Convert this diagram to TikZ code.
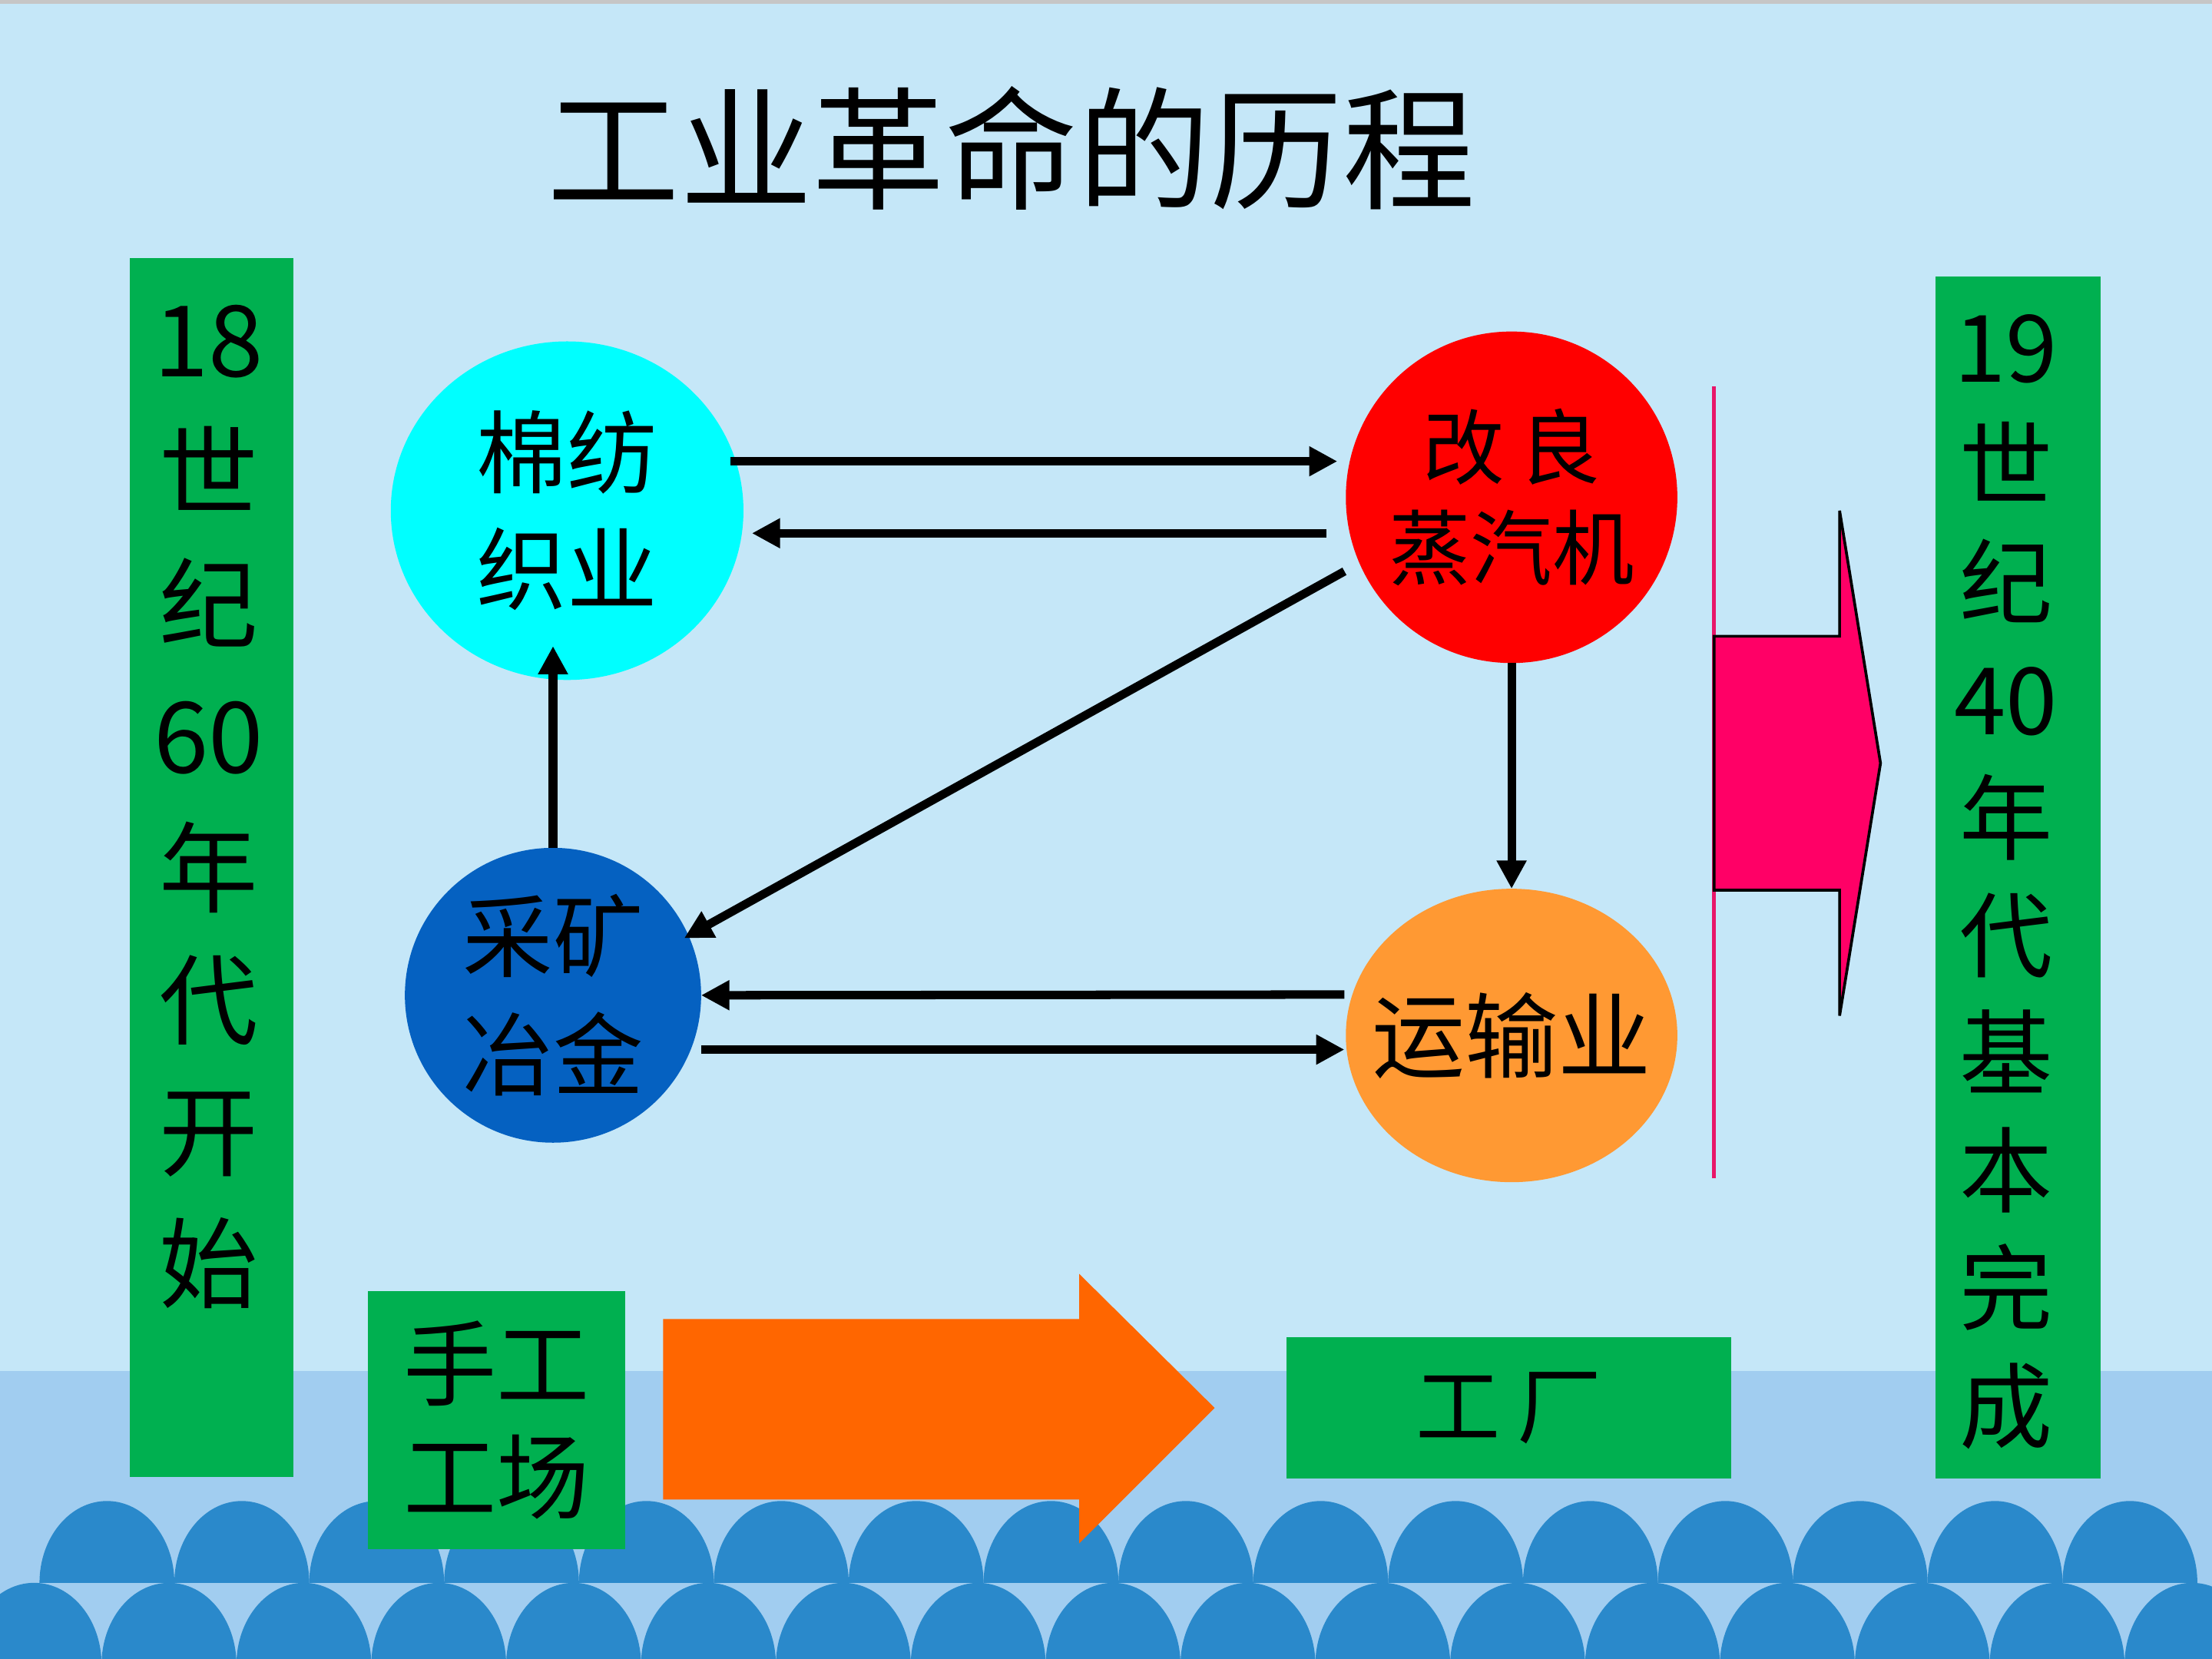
\documentclass[tikz,border=0pt]{standalone}
\usepackage{fontspec}
\newfontfamily\cjk{Noto Sans CJK SC}
\usetikzlibrary{shapes.geometric,arrows.meta}
\definecolor{skyblue}{RGB}{197,231,248}
\definecolor{bandblue}{RGB}{161,205,240}
\definecolor{waveblue}{RGB}{42,137,203}
\definecolor{barGreen}{RGB}{0,176,80}
\definecolor{cottonCyan}{RGB}{0,255,255}
\definecolor{steamRed}{RGB}{255,0,0}
\definecolor{mineBlue}{RGB}{5,97,193}
\definecolor{transOrange}{RGB}{255,153,51}
\definecolor{bigOrange}{RGB}{255,102,0}
\definecolor{hotPink}{RGB}{255,0,102}
\definecolor{lineRed}{RGB}{232,22,105}
\begin{document}
\begin{tikzpicture}[x=0.5pt,y=0.5pt,yscale=-1,xscale=1,
    blob/.style={ellipse, inner sep=-10pt, outer sep=0pt, align=center},
    bar/.style={fill=barGreen, inner sep=0pt, outer sep=0pt, align=center},
    wave/.style={fill=waveblue},
    link/.style={line width=3pt, -{Triangle[length=10pt,width=10pt]}}]
        \useasboundingbox (0,0) rectangle (1568,1176);
        \clip (0,0) rectangle (1568,1176);
        %Background
        \fill[skyblue] (0,0) rectangle (1568,1176);
        \fill[bandblue] (0,972) rectangle (1568,1176);
        \fill[gray!45] (0,0) rectangle (1568,3);
        %Waves
        \foreach \k in {0,...,15}
            \fill[wave] ({28+95.6*\k},1122) arc[start angle=180,end angle=360,x radius=47.8,y radius=58];
        \foreach \k in {0,...,16}
            \fill[wave] ({-23.6+95.6*\k},1180) arc[start angle=180,end angle=360,x radius=47.8,y radius=58];

        % Title
        \node (title) at (717,105) {\cjk\fontsize{47}{50}\selectfont 工业革命的历程};

        %Side bars
        \node[bar, minimum width=58pt, minimum height=432pt] (start) at (150,615) {};
        \node[font=\cjk\fontsize{35}{46.8}\selectfont, align=center] (starttext) at (148,572) {18\\世\\纪\\60\\年\\代\\开\\始};
        \node[bar, minimum width=58.5pt, minimum height=426pt] (finish) at (1430.5,622) {};
        \node[font=\cjk\fontsize{33}{41.7}\selectfont, align=center] (finishtext) at (1422,625) {19\\世\\纪\\40\\年\\代\\基\\本\\完\\成};

        %Circles
        \node[blob, fill=cottonCyan, minimum width=125pt, minimum height=120pt, font=\cjk\fontsize{32}{41.5}\selectfont] (mian) at (402,362) {棉纺\\织业};
        \node[blob, fill=steamRed, minimum width=117.5pt, minimum height=117.5pt, font=\cjk\fontsize{29}{35.5}\selectfont] (qiche) at (1071.5,352.5) {改\kern5pt 良\\蒸汽机};
        \node[blob, fill=mineBlue, minimum width=105pt, minimum height=104.5pt, font=\cjk\fontsize{32}{42}\selectfont] (caikuang) at (392,705.5) {采矿\\冶金};
        \node[blob, fill=transOrange, minimum width=117.5pt, minimum height=104pt, font=\cjk\fontsize{33}{40}\selectfont] (yunshu) at (1071.5,734) {运输业};

        %Connectors
        \draw[link] ([xshift=-4.5pt,yshift=-17.5pt]mian.east) -- ([xshift=-3pt,yshift=-12.75pt]qiche.west);
        \draw[link] ([xshift=-7pt,yshift=12.75pt]qiche.west) -- ([xshift=3pt,yshift=8pt]mian.east);
        \draw[link] ([xshift=-0.5pt,yshift=26.25pt]qiche.west) -- ([xshift=-6pt,yshift=-20.25pt]caikuang.east);
        \draw[link] (qiche.south) -- (yunshu.north);
        \draw[link] (caikuang.north) -- ([yshift=-12pt]caikuang.north |- mian.south);
        \draw[link] ([xshift=-0.5pt,yshift=-14.5pt]yunshu.west) -- (caikuang.east);
        \draw[link] ([yshift=19.25pt]caikuang.east) -- ([xshift=-0.5pt,yshift=5pt]yunshu.west);

        %Pink line and arrow
        \draw[lineRed, line width=1.5pt] (1215,274) -- (1215,835);
        \draw[fill=hotPink, line width=1pt] (1215,451) -- (1304,451) -- (1304,362) -- (1333,541) -- (1304,720) -- (1304,631) -- (1215,631) -- cycle;

        %Bottom row
        \node[bar, minimum width=91pt, minimum height=91.5pt, font=\cjk\fontsize{33}{40}\selectfont] (shougong) at (352,1006.5) {手工\\工场};
        \fill[bigOrange] (470,935) -- (765,935) -- (765,903) -- (861,998) -- (765,1094) -- (765,1063) -- (470,1063) -- cycle;
        \node[bar, minimum width=157.5pt, minimum height=50pt, font=\cjk\fontsize{30}{36}\selectfont] (gongchang) at (1069.5,998) {工\kern6pt 厂};
\end{tikzpicture}
\end{document}
